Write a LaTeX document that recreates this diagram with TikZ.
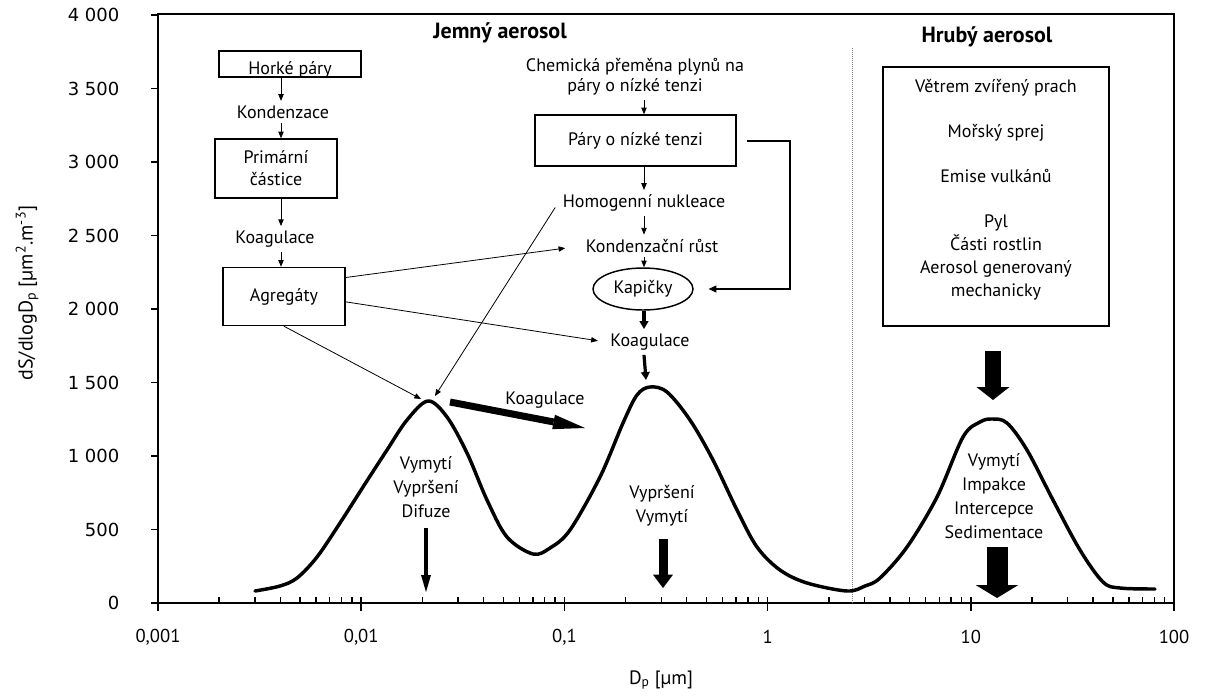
\documentclass[tikz,border=0pt]{standalone}
\usepackage{fontspec}
\setmainfont{PT Sans}
\newfontfamily\numfont{DejaVu Sans}
\usetikzlibrary{arrows.meta,shapes.geometric}

\newcommand\txt{\fontsize{13.5}{18}\selectfont}

\begin{document}
\begin{tikzpicture}[x=0.75pt,y=-0.75pt,font=\txt,
    box/.style={draw,line width=1.1pt,inner sep=2pt},
    conn/.style={-{Triangle[length=5pt,width=4pt]},line width=0.6pt},
    heavy/.style={-{Triangle[length=6pt,width=6.5pt]},line width=2.4pt},
    sink/.style n args={3}{line width=#1,-{Triangle[width=#2,length=#3,line width=0pt]}},
    tick/.style={line width=1.1pt}]
    \useasboundingbox (0,0) rectangle (1207,697);

    \draw[line width=1.5pt] (158,14) rectangle (1174,603);
    \foreach \v/\lab in {0/0,1/500,2/1~000,3/1~500,4/2~000,5/2~500,6/3~000,7/3~500,8/4~000}{
        \draw[tick] (151,603-73.5*\v) -- (158,603-73.5*\v);
        \node[anchor=east,font=\numfont\fontsize{13.5}{15}\selectfont] (y\v) at (124,603-73.5*\v) {\lab};
    }
    \foreach \d/\lab in {0/{0,001},1/{0,01},2/{0,1},3/1,4/10,5/100}{
        \draw[tick] (158+203.2*\d,597) -- (158+203.2*\d,611);
        \node[font=\fontsize{14}{16}\selectfont] (x\d) at (158+203.2*\d,637) {\lab};
    }
    \foreach \d in {0,...,4}{
        \foreach \m in {2,...,9}
            \draw[tick] ({158+203.2*(\d+log10(\m))},603) -- ++(0,-6);
    }
    \node[font=\fontsize{14.5}{16}\selectfont] (xlab) at (661,680) {D\textsubscript{p} [µm]};
    \node[rotate=90,font=\fontsize{15}{17}\selectfont] (ylab) at (27,293)
        {dS/dlogD\textsubscript{p} [µm\textsuperscript{2}.m\textsuperscript{-3}]};

    \draw[densely dotted,gray,line width=0.5pt] (852,48) -- (852,603);
    \node[font=\fontsize{16.5}{18}\selectfont\bfseries] (fine) at (500,33) {Jemný aerosol};
    \node[font=\fontsize{16.5}{18}\selectfont\bfseries] (coarse) at (987,37) {Hrubý aerosol};

    % jemny aerosol, vlevo
    \coordinate (lc) at (281,0);
    \node[box,minimum width=106.5pt,minimum height=19.5pt,
        label={[yshift=-4.5pt]center:Horké páry}] (hot) at (290,64) {};
    \node (kond) at (283,112) {Kondenzace};
    \node[box,minimum width=91.5pt,minimum height=44.25pt,align=center,
        font=\fontsize{13.5}{16.5}\selectfont] (prim) at (276,168.5) {Primární\\částice};
    \node (koag1) at (275,239) {Koagulace};
    \node[box,minimum width=91.5pt,minimum height=43.5pt] (agg) at (284,296.5) {Agregáty};
    \draw[conn] (hot.south -| lc) -- (kond.north -| lc);
    \draw[conn] (kond.south -| lc) -- (prim.north -| lc);
    \draw[conn] (prim.south -| lc) -- (koag1.north -| lc);
    \draw[conn] (koag1.south -| lc) -- (agg.north -| lc);

    % jemny aerosol, uprostred
    \coordinate (mc) at (644,0);
    \node[align=center,font=\fontsize{13.5}{15}\selectfont] (chem) at (635,77)
        {Chemická přeměna plynů na\\páry o nízké tenzi};
    \node[box,minimum width=150.75pt,minimum height=38.25pt] (pary) at (635.5,140.5) {Páry o nízké tenzi};
    \node (homo) at (644,203) {Homogenní nukleace};
    \node (kgrow) at (652,246) {Kondenzační růst};
    \node[draw,ellipse,line width=1.1pt,minimum width=75pt,minimum height=31.5pt,inner sep=0pt]
        (kap) at (643,289) {Kapičky};
    \node (koag2) at (650,342) {Koagulace};
    \coordinate (pk2) at (646,380);
    \draw[conn] (chem.south -| mc) -- (pary.north -| mc);
    \draw[conn] (pary.south -| mc) -- (homo.north -| mc);
    \draw[conn] (homo.south -| mc) -- (kgrow.north -| mc);
    \draw[conn] (kgrow.south -| mc) -- (kap.north -| mc);
    \draw[heavy] (kap.south -| mc) -- (koag2.north -| mc);
    \draw[heavy] (koag2.south -| mc) -- (pk2);
    \draw[line width=1.5pt,-{Triangle[length=6pt,width=5pt]},shorten <=7.5pt,shorten >=11pt]
        (pary.east) -- ++(53,0) |- (kap.east);

    \coordinate (pk1a) at (421,399);
    \coordinate (pk1b) at (435,396);
    \draw[conn,shorten >=12pt] ([yshift=14.25pt]agg.east) -- (kgrow.west);
    \draw[conn,shorten >=6pt] ([yshift=-4pt]agg.east) -- (koag2.west);
    \draw[conn] (agg.south) -- (pk1a);
    \draw[conn,shorten <=4pt] (homo.west) -- (pk1b);

    \coordinate (kgA) at (450,402);
    \coordinate (kgB) at (585,428);
    \draw[sink={5.25pt}{11pt}{24pt}] (kgA) -- (kgB);
    \node (kglab) at (545,400) {Koagulace};

    % hruby aerosol
    \node[box,minimum width=169.5pt,minimum height=194.25pt,
        label={[align=center,yshift=5.25pt,font=\fontsize{13.5}{17.25}\selectfont]center:{Větrem zvířený prach\\[16.5pt]Mořský sprej\\[16.5pt]Emise vulkánů\\[16.5pt]Pyl\\Části rostlin\\Aerosol generovaný\\mechanicky}}]
        (src) at (996,196.5) {};

    % krivka
    \draw[line width=2.6pt,line join=round,line cap=round] plot[smooth,tension=0.55] coordinates {
        (255,591) (280,586) (297,578) (317,557) (340,523) (363,487) (387,450) (407,420)
        (428,401) (447,417) (467,453) (487,500) (507,537) (533,554) (550,548) (570,530)
        (600,477) (623,423) (637,395) (650,387) (667,392) (690,420) (713,460) (737,510)
        (757,547) (780,570) (807,583) (847,591) (865,586) (880,578) (907,547) (937,497)
        (963,437) (980,422) (992,419) (1007,423) (1027,450) (1053,500) (1080,550)
        (1103,582) (1120,588) (1155,589)};

    % odstranovani
    \node[align=center] (rm1) at (426,487) {Vymytí\\Vypršení\\Difuze};
    \node[align=center] (rm2) at (662,506) {Vypršení\\Vymytí};
    \node[align=center] (rm3) at (994,496) {Vymytí\\Impakce\\Intercepce\\Sedimentace};
    \coordinate (s1a) at (426,528);  \coordinate (s1b) at (426,592);
    \coordinate (s2a) at (663,539);  \coordinate (s2b) at (663,588);
    \coordinate (s3a) at (993,351);  \coordinate (s3b) at (993,400);
    \coordinate (s4a) at (997,547);  \coordinate (s4b) at (997,598);
    \draw[sink={3.4pt}{7.5pt}{12.75pt}] (s1a) -- (s1b);
    \draw[sink={6.75pt}{15pt}{10pt}] (s2a) -- (s2b);
    \draw[sink={12pt}{24.75pt}{9.75pt}] (s3a) -- (s3b);
    \draw[sink={15.75pt}{32pt}{9.75pt}] (s4a) -- (s4b);
\end{tikzpicture}
\end{document}
